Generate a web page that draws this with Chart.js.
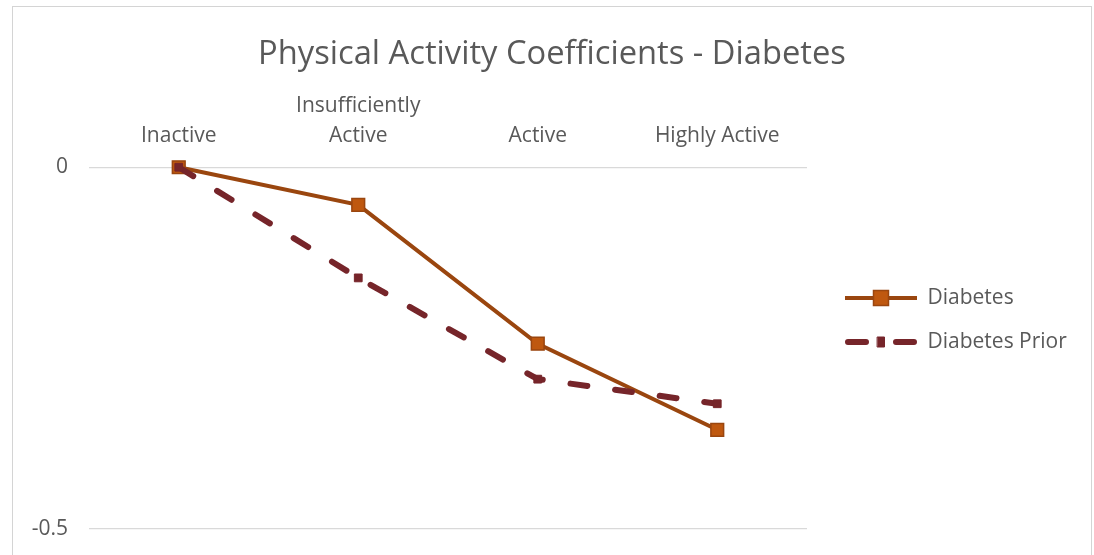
<!DOCTYPE html>
<html>
<head>
<meta charset="utf-8">
<script src="https://cdn.jsdelivr.net/npm/chart.js@4.4.1/dist/chart.umd.min.js"></script>
<style>
  html, body { margin: 0; padding: 0; background: #fff; overflow: hidden; width: 1094px; height: 555px; }
  #frame { position: absolute; left: 12px; top: 6px; width: 1078px; height: 660px; border: 1px solid #d4d4d4; background: #fff; }
  #chart { position: absolute; left: 0; top: 0; }
</style>
</head>
<body>
<div id="frame"><canvas id="chart" width="1078" height="626"></canvas></div>
<script>
// Activity levels along the top axis
const categories = ['Inactive', ['Insufficiently', 'Active'], 'Active', 'Highly Active'];
// Coefficients relative to the inactive group
const diabetes = [0, -0.052, -0.244, -0.363];
const diabetesPrior = [0, -0.153, -0.293, -0.327];
// Labelled values on the vertical axis
const yTicks = [-0.5, 0];

const FONT = '"Open Sans", sans-serif';
const TEXT = '#595959';
const GRID = '#d9d9d9';
const LEGEND_FONT = 21;
const CANVAS_W = 1078;
const PLOT_RIGHT = 794;   // right edge of the plot area, legend column starts here
const PLOT_TOP = 160;     // top edge of the plot area (the zero line)
const TITLE_BLOCK = 28 + 39;

// Legend swatch: a short stretch of the series line with its marker in the middle
function swatch(ds) {
  const lead = 15, len = 72, h = 24;
  const cv = document.createElement('canvas');
  cv.width = lead + len; cv.height = h;
  const g = cv.getContext('2d');
  const y = h / 2;
  const cap = ds.borderCapStyle === 'round' ? ds.borderWidth / 2 : 0;
  g.strokeStyle = ds.borderColor;
  g.lineWidth = ds.borderWidth;
  g.lineCap = ds.borderCapStyle || 'butt';
  if (ds.legendDash) g.setLineDash(ds.legendDash);
  g.beginPath(); g.moveTo(lead + cap, y); g.lineTo(lead + len - cap, y); g.stroke();
  g.setLineDash([]);
  const [mw, mh] = ds.legendMarker;
  g.fillStyle = ds.pointBackgroundColor;
  g.strokeStyle = ds.pointBorderColor;
  g.lineWidth = ds.pointBorderWidth;
  const cx = lead + len / 2;
  g.beginPath(); g.rect(cx - mw / 2, y - mh / 2, mw, mh); g.fill(); g.stroke();
  return cv;
}

const datasets = [
  {
    label: 'Diabetes',
    data: diabetes,
    borderColor: '#9a460f',
    borderWidth: 4,
    pointStyle: 'rect',
    pointRadius: 9,
    pointBackgroundColor: '#bf580f',
    pointBorderColor: '#9a460f',
    pointBorderWidth: 1.5,
    legendMarker: [15, 15],
    order: 1,
    clip: false
  },
  {
    label: 'Diabetes Prior',
    data: diabetesPrior,
    borderColor: '#76252a',
    borderWidth: 6,
    borderDash: [17, 28],
    borderCapStyle: 'round',
    legendDash: [18, 30],
    pointStyle: 'rect',
    pointRadius: 5.5,
    pointBackgroundColor: '#76252a',
    pointBorderColor: '#76252a',
    pointBorderWidth: 1,
    legendMarker: [7, 10],
    order: 0,
    clip: false
  }
];

// Keeps the legend column a fixed width so the plot area ends at PLOT_RIGHT
const legendColumn = {
  id: 'legendColumn',
  beforeLayout(chart) {
    const lg = chart.legend;
    if (lg && !lg._fixedWidth) {
      const fit = lg.fit.bind(lg);
      lg.fit = function () { fit(); this.width = CANVAS_W - PLOT_RIGHT; };
      lg._fixedWidth = true;
    }
  }
};

new Chart(document.getElementById('chart'), {
  type: 'line',
  data: { labels: categories, datasets },
  plugins: [legendColumn],
  options: {
    responsive: false,
    animation: false,
    devicePixelRatio: 1,
    layout: { padding: 0, autoPadding: false },
    plugins: {
      title: {
        display: true,
        text: 'Physical Activity Coefficients - Diabetes',
        color: TEXT,
        font: { family: FONT, size: 32.7, weight: 'normal', lineHeight: 1.2 },
        padding: { top: 28, bottom: 0 }
      },
      legend: {
        display: true,
        position: 'right',
        align: 'center',
        labels: {
          color: TEXT,
          font: { family: FONT, size: LEGEND_FONT },
          padding: 23,
          usePointStyle: true,
          pointStyleWidth: 87,
          generateLabels: (chart) => chart.data.datasets.map((ds, i) => ({
            text: ds.label,
            pointStyle: swatch(ds),
            fillStyle: ds.borderColor,
            strokeStyle: ds.borderColor,
            lineWidth: 0,
            fontColor: TEXT,
            hidden: !chart.isDatasetVisible(i),
            datasetIndex: i
          }))
        }
      },
      tooltip: { enabled: false }
    },
    scales: {
      x: {
        position: 'top',
        offset: true,
        grid: { display: false, drawTicks: false },
        border: { display: false },
        ticks: {
          color: TEXT,
          font: { family: FONT, size: 21, lineHeight: 1.43 },
          padding: 16,
          maxRotation: 0,
          autoSkip: false
        },
        afterFit: (scale) => { scale.height = PLOT_TOP - TITLE_BLOCK; }
      },
      y: {
        min: -0.644,
        max: 0,
        grid: { color: GRID, lineWidth: 1.2, drawTicks: false },
        border: { display: false },
        afterBuildTicks: (scale) => { scale.ticks = yTicks.map(v => ({ value: v })); },
        ticks: {
          color: TEXT,
          font: { family: FONT, size: 21 },
          padding: 21,
          callback: (v) => String(v)
        },
        afterFit: (scale) => {
          scale.width = 76;
          scale.paddingTop = 0;
          scale.paddingBottom = 0;
        }
      }
    }
  }
});
</script>
</body>
</html>
